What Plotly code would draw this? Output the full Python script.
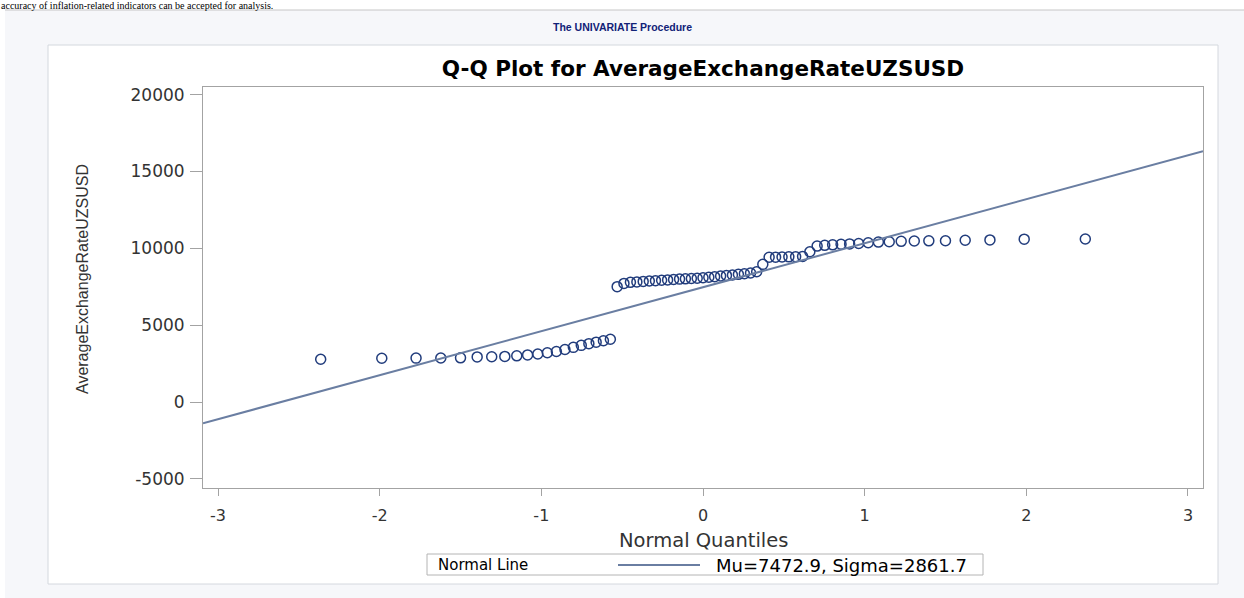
import plotly.graph_objects as go

# ---------------- data ----------------
HEADER_TEXT = "accuracy of inflation-related indicators can be accepted for analysis."
PROC_TITLE = "The UNIVARIATE Procedure"
TITLE = "Q-Q Plot for AverageExchangeRateUZSUSD"
X_LABEL = "Normal Quantiles"
Y_LABEL = "AverageExchangeRateUZSUSD"
LEGEND_TITLE = "Normal Line"

normal_quantiles = [
    -2.365, -1.987, -1.775, -1.622, -1.500, -1.397, -1.307, -1.226, -1.152, -1.085,
    -1.022, -0.963, -0.907, -0.854, -0.802, -0.753, -0.706, -0.661, -0.616, -0.573,
    -0.531, -0.489, -0.449, -0.409, -0.370, -0.332, -0.294, -0.256, -0.219, -0.182,
    -0.145, -0.109, -0.072, -0.036, 0.000, 0.036, 0.072, 0.109, 0.145, 0.182,
    0.219, 0.256, 0.294, 0.332, 0.370, 0.409, 0.449, 0.489, 0.531, 0.573,
    0.616, 0.661, 0.706, 0.753, 0.802, 0.854, 0.907, 0.963, 1.022, 1.085,
    1.152, 1.226, 1.307, 1.397, 1.500, 1.622, 1.775, 1.987, 2.365,
]
exchange_rate = [
    2790, 2850, 2860, 2870, 2880, 2940, 2950, 2970, 3010, 3070,
    3130, 3210, 3290, 3420, 3560, 3690, 3800, 3900, 3990, 4090,
    7510, 7720, 7790, 7820, 7850, 7880, 7900, 7930, 7950, 7980,
    8000, 8020, 8040, 8060, 8090, 8120, 8160, 8200, 8240, 8270,
    8310, 8350, 8400, 8480, 8960, 9420, 9430, 9440, 9450, 9460,
    9480, 9780, 10150, 10200, 10230, 10270, 10290, 10320, 10370, 10410,
    10430, 10460, 10480, 10490, 10500, 10530, 10550, 10600, 10610,
]
MU = 7472.9
SIGMA = 2861.7

x_ticks = [-3, -2, -1, 0, 1, 2, 3]
x_tick_labels = ["-3", "-2", "-1", "0", "1", "2", "3"]
y_ticks = [-5000, 0, 5000, 10000, 15000, 20000]
y_tick_labels = ["-5000", "0", "5000", "10000", "15000", "20000"]
X_RANGE = [-3.093, 3.093]
Y_RANGE = [-5590, 20500]

# ---------------- layout geometry (pixels) ----------------
W, H = 1244, 598
PL, PR, PT, PB = 203, 1203, 87, 488


def px(x):
    return (x - PL) / (PR - PL)


def py(y):
    return (PB - y) / (PB - PT)


MARKER_COLOR = "#213c7c"
LINE_COLOR = "#6a7ea2"
AXIS_COLOR = "#a3a3a3"
TEXT_COLOR = "#333333"
FONT = "DejaVu Sans"

fig = go.Figure()

fig.add_trace(go.Scatter(
    x=normal_quantiles, y=exchange_rate, mode="markers",
    marker=dict(symbol="circle-open", size=10, color=MARKER_COLOR,
                line=dict(width=1.5, color=MARKER_COLOR)),
    showlegend=False, hoverinfo="x+y",
))

line_x = list(X_RANGE)
line_y = [MU + SIGMA * v for v in line_x]
fig.add_trace(go.Scatter(
    x=line_x, y=line_y, mode="lines",
    line=dict(color=LINE_COLOR, width=2),
    showlegend=False, hoverinfo="skip",
))

shapes = [
    # page tint
    dict(type="rect", xref="paper", yref="paper", x0=px(5), x1=px(W + 5), y0=py(H + 5), y1=py(10),
         fillcolor="#f6f7fa", line=dict(width=0), layer="below"),
    # separator rule
    dict(type="line", xref="paper", yref="paper", x0=px(5), x1=px(W + 5), y0=py(10), y1=py(10),
         line=dict(color="#c6c6c6", width=1), layer="below"),
    # output box
    dict(type="rect", xref="paper", yref="paper", x0=px(48), x1=px(1218), y0=py(584), y1=py(45),
         fillcolor="white", line=dict(color="#d4d8de", width=1), layer="below"),
    # legend box
    dict(type="rect", xref="paper", yref="paper", x0=px(427), x1=px(983), y0=py(575), y1=py(554),
         fillcolor="white", line=dict(color="#b4b4b4", width=1), layer="below"),
    # legend line sample
    dict(type="line", xref="paper", yref="paper", x0=px(618), x1=px(700), y0=py(565), y1=py(565),
         line=dict(color=LINE_COLOR, width=2), layer="above"),
]

annotations = [
    dict(text=HEADER_TEXT, xref="paper", yref="paper", x=px(0), y=py(-1),
         xanchor="left", yanchor="top", showarrow=False, borderpad=0,
         font=dict(family="Liberation Serif", size=10, color="black")),
    dict(text=PROC_TITLE, xref="paper", yref="paper", x=px(622), y=py(27),
         xanchor="center", yanchor="middle", showarrow=False,
         font=dict(family="Liberation Sans", size=10.5, color="#112277", weight="bold")),
    dict(text=Y_LABEL, xref="paper", yref="paper", x=px(82), y=py(279),
         xanchor="center", yanchor="middle", showarrow=False, textangle=-90,
         font=dict(family="Liberation Sans", size=16, color=TEXT_COLOR)),
    dict(text=X_LABEL, xref="paper", yref="paper", x=px(703), y=py(540),
         xanchor="center", yanchor="middle", showarrow=False,
         font=dict(family=FONT, size=19.5, color=TEXT_COLOR)),
    dict(text=LEGEND_TITLE, xref="paper", yref="paper", x=px(436), y=py(565),
         xanchor="left", yanchor="middle", showarrow=False,
         font=dict(family=FONT, size=15, color="black")),
    dict(text=f"Mu={MU:.1f}, Sigma={SIGMA:.1f}", xref="paper", yref="paper", x=px(714), y=py(565),
         xanchor="left", yanchor="middle", showarrow=False,
         font=dict(family=FONT, size=18, color="black")),
]

fig.update_layout(
    width=W, height=H, autosize=False,
    margin=dict(l=PL, r=W - PR, t=PT, b=H - PB, pad=0),
    paper_bgcolor="white", plot_bgcolor="white",
    title=dict(text=TITLE, x=px(703), xref="paper", xanchor="center",
               y=1 - 68 / H, yref="container", yanchor="middle",
               font=dict(family=FONT, size=21.5, color="black", weight="bold")),
    shapes=shapes, annotations=annotations, showlegend=False,
)

fig.update_xaxes(
    range=X_RANGE, tickmode="array", tickvals=x_ticks, ticktext=x_tick_labels,
    ticks="outside", ticklen=7, tickwidth=1, tickcolor=AXIS_COLOR,
    showline=True, linecolor=AXIS_COLOR, linewidth=1, mirror=True,
    showgrid=False, zeroline=False, ticklabelstandoff=6,
    tickfont=dict(family=FONT, size=16, color=TEXT_COLOR),
)
fig.update_yaxes(
    range=Y_RANGE, tickmode="array", tickvals=y_ticks, ticktext=y_tick_labels,
    ticks="outside", ticklen=12, tickwidth=1, tickcolor=AXIS_COLOR,
    showline=True, linecolor=AXIS_COLOR, linewidth=1, mirror=True,
    showgrid=False, zeroline=False, ticklabelstandoff=2,
    tickfont=dict(family=FONT, size=17, color=TEXT_COLOR),
)

fig.write_html(
    "out.html",
    config={"displayModeBar": False},
    post_script="document.body.style.margin='0';document.body.style.overflow='hidden';",
)
